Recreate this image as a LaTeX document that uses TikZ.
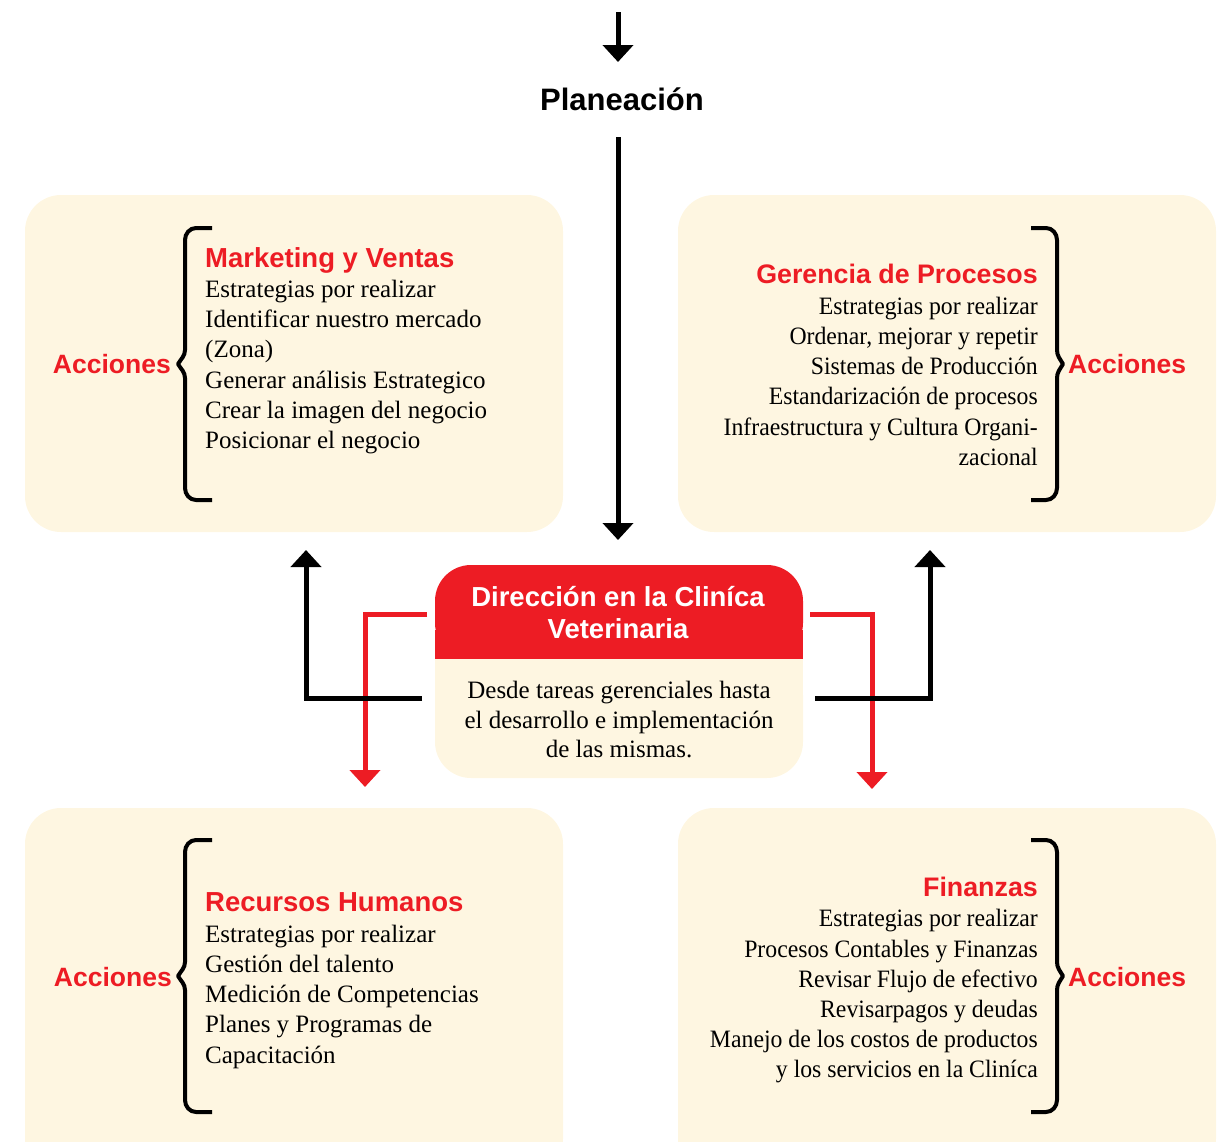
\documentclass[tikz,border=0pt]{standalone}
\usepackage{fontspec}
\setmainfont{Liberation Serif}
\newfontfamily\narrowserif{Liberation Serif}[FakeStretch=0.95]
\newfontfamily\hsans{Liberation Sans}
\usetikzlibrary{arrows.meta}
\definecolor{cream}{RGB}{254,246,225}
\definecolor{cred}{RGB}{237,28,36}
\tikzset{
  panel/.style={fill=cream, draw=none, rounded corners=36pt},
  body/.style={font=\fontsize{25}{30}\selectfont, inner sep=0pt},
  rbody/.style={font=\narrowserif\fontsize{25}{30}\selectfont, inner sep=0pt},
  ttl/.style={font=\hsans\bfseries\fontsize{27.5}{30}\selectfont, text=cred, inner sep=0pt},
  rttl/.style={font=\hsans\bfseries\fontsize{26.8}{30}\selectfont, text=cred, inner sep=0pt},
  acc/.style={font=\hsans\bfseries\fontsize{26.5}{30}\selectfont, text=cred, inner sep=0pt},
  brace/.style={line width=4pt, line cap=butt, line join=round},
  blk/.style={line width=5pt, -{Triangle[width=30pt,length=17pt]}},
  rdl/.style={line width=5pt, draw=cred, -{Triangle[width=30pt,length=17pt]}, color=cred},
}
\begin{document}
\begin{tikzpicture}[x=1pt,y=-1pt]
\useasboundingbox (0,0) rectangle (1221,1141);
\begin{scope}
\clip (0,0) rectangle (1221,1141);
% panels
\path[panel] (25,195) rectangle (563,532);
\path[panel] (678,195) rectangle (1216,532);
\path[panel] (25,808) rectangle (563,1175);
\path[panel] (678,808) rectangle (1216,1175);
\end{scope}

% top arrow and Planeacion
\coordinate (topin) at (618,12);
\node[font=\hsans\bfseries\fontsize{31}{32}\selectfont, anchor=base, inner sep=0pt] (plan) at (622,110) {Planeación};
\coordinate (topend) at (618,62);
\draw[blk] (topin) -- (topend);
\coordinate (plbot) at (618,137);
\coordinate (plend) at (618,540);
\draw[blk] (plbot) -- (plend);

% central box
\path[fill=cred, rounded corners=36pt] (435,659) -- (435,565) -- (803,565) -- (803,659) -- cycle;
\path[fill=cred] (435,630) rectangle (803,660);
\path[fill=cream, rounded corners=36pt] (435,659) -- (435,778) -- (803,778) -- (803,659) -- cycle;
\path[fill=cream] (435,659) rectangle (803,700);
\node[font=\hsans\bfseries\fontsize{27.5}{30}\selectfont, text=white, anchor=base, inner sep=0pt] (c1) at (618,606) {Dirección en la Cliníca};
\node[font=\hsans\bfseries\fontsize{27.5}{30}\selectfont, text=white, anchor=base, inner sep=0pt] (c2) at (618,638) {Veterinaria};
\node[body, anchor=base] (d1) at (619,698) {Desde tareas gerenciales hasta};
\node[body, anchor=base] (d2) at (619,728) {el desarrollo e implementación};
\node[body, anchor=base] (d3) at (619,757) {de las mismas.};

% red connectors
\coordinate (rl0) at (427,614);
\coordinate (rl1) at (365,614);
\coordinate (rl2) at (365,787);
\draw[rdl, line join=miter] (rl0) -- (rl1) -- (rl2);
\coordinate (rr0) at (810,614);
\coordinate (rr1) at (872,614);
\coordinate (rr2) at (872,789);
\draw[rdl, line join=miter] (rr0) -- (rr1) -- (rr2);
% black connectors
\coordinate (bl0) at (422,698);
\coordinate (bl1) at (306,698);
\coordinate (bl2) at (306,550);
\draw[blk, line join=miter] (bl0) -- (bl1) -- (bl2);
\coordinate (br0) at (815,698);
\coordinate (br1) at (930,698);
\coordinate (br2) at (930,550);
\draw[blk, line join=miter] (br0) -- (br1) -- (br2);

% ---------- Top-left panel
\draw[brace] (212,228) -- (196,228) to[out=180,in=90] (185,240) -- (185,350) to[out=-90,in=60] (178,364) to[out=-60,in=90] (185,378) -- (185,488) to[out=-90,in=180] (196,500) -- (212,500);
\node[acc, anchor=base east] (a1) at (171,373) {Acciones};
\node[ttl, anchor=base west] (t1) at (205,267) {Marketing y Ventas};
\node[body, anchor=base west] (m1) at (205,297) {Estrategias por realizar};
\node[body, anchor=base west] (m2) at (205,327) {Identificar nuestro mercado};
\node[body, anchor=base west] (m3) at (205,357) {(Zona)};
\node[body, anchor=base west] (m4) at (205,388) {Generar análisis Estrategico};
\node[body, anchor=base west] (m5) at (205,418) {Crear la imagen del negocio};
\node[body, anchor=base west] (m6) at (205,448) {Posicionar el negocio};

% ---------- Top-right panel
\draw[brace] (1031,228) -- (1046,228) to[out=0,in=90] (1057,240) -- (1057,350) to[out=-90,in=120] (1063,364) to[out=-120,in=90] (1057,378) -- (1057,488) to[out=-90,in=0] (1046,500) -- (1031,500);
\node[acc, anchor=base west] (a2) at (1068,373) {Acciones};
\node[rttl, anchor=base east] (t2) at (1038,283) {Gerencia de Procesos};
\node[rbody, anchor=base east] (g1) at (1038,314) {Estrategias por realizar};
\node[rbody, anchor=base east] (g2) at (1038,344) {Ordenar, mejorar y repetir};
\node[rbody, anchor=base east] (g3) at (1038,374) {Sistemas de Producción};
\node[rbody, anchor=base east] (g4) at (1038,404) {Estandarización de procesos};
\node[rbody, anchor=base east] (g5) at (1038,435) {Infraestructura y Cultura Organi-};
\node[rbody, anchor=base east] (g6) at (1038,465) {zacional};

% ---------- Bottom-left panel
\draw[brace] (212,840) -- (196,840) to[out=180,in=90] (185,852) -- (185,962) to[out=-90,in=60] (178,976) to[out=-60,in=90] (185,990) -- (185,1100) to[out=-90,in=180] (196,1112) -- (212,1112);
\node[acc, anchor=base east] (a3) at (172,986) {Acciones};
\node[ttl, anchor=base west] (t3) at (205,911) {Recursos Humanos};
\node[body, anchor=base west] (r1) at (205,942) {Estrategias por realizar};
\node[body, anchor=base west] (r2) at (205,972) {Gestión del talento};
\node[body, anchor=base west] (r3) at (205,1002) {Medición de Competencias};
\node[body, anchor=base west] (r4) at (205,1032) {Planes y Programas de};
\node[body, anchor=base west] (r5) at (205,1063) {Capacitación};

% ---------- Bottom-right panel
\draw[brace] (1031,840) -- (1046,840) to[out=0,in=90] (1057,852) -- (1057,962) to[out=-90,in=120] (1063,976) to[out=-120,in=90] (1057,990) -- (1057,1100) to[out=-90,in=0] (1046,1112) -- (1031,1112);
\node[acc, anchor=base west] (a4) at (1068,986) {Acciones};
\node[rttl, anchor=base east] (t4) at (1038,896) {Finanzas};
\node[rbody, anchor=base east] (f1) at (1038,926) {Estrategias por realizar};
\node[rbody, anchor=base east] (f2) at (1038,957) {Procesos Contables y Finanzas};
\node[rbody, anchor=base east] (f3) at (1038,987) {Revisar Flujo de efectivo};
\node[rbody, anchor=base east] (f4) at (1038,1017) {Revisarpagos y deudas};
\node[rbody, anchor=base east] (f5) at (1038,1047) {Manejo de los costos de productos};
\node[rbody, anchor=base east] (f6) at (1038,1077) {y los servicios en la Cliníca};
\end{tikzpicture}
\end{document}
